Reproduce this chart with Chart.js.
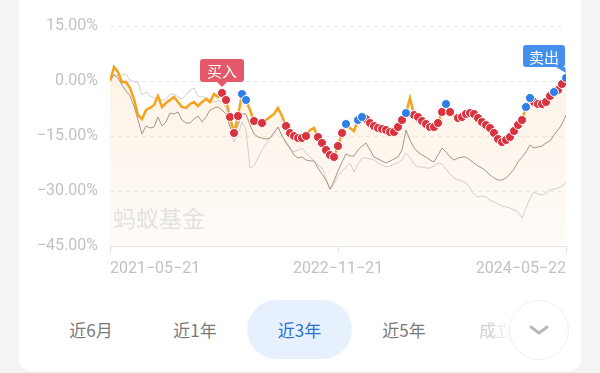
<!DOCTYPE html>
<html>
<head>
    <meta charset="utf-8">
    <title>收益走势</title>
    <script src="https://cdn.jsdelivr.net/npm/chart.js"></script>
    <style>
        body {
            margin: 0;
            width: 600px;
            height: 373px;
            overflow: hidden;
            background: #f4f4f5;
            font-family: Roboto, 'Noto Sans CJK SC', sans-serif;
            position: relative;
        }

        .card {
            position: absolute;
            left: 19px;
            top: 0;
            width: 562px;
            height: 371px;
            background: #fff;
            border-radius: 0 0 12px 12px;
        }

        #trendChart {
            position: absolute;
            left: 0;
            top: 0;
        }

        .range {
            position: absolute;
            top: 300px;
            height: 59px;
            line-height: 59px;
            font-size: 17px;
            color: #7a7a7a;
            text-align: center;
            font-family: 'Noto Sans CJK SC', sans-serif;
        }

        .range.active {
            background: #e7f1fe;
            color: #2d6fd2;
            border-radius: 30px;
        }

        .range.faded {
            color: #d2d2d2;
            text-align: left;
        }

        .fade {
            position: absolute;
            left: 493px;
            top: 305px;
            width: 18px;
            height: 50px;
            background: linear-gradient(to right, rgba(255,255,255,0), #fff);
        }

        .more {
            position: absolute;
            left: 509px;
            top: 300px;
            width: 58px;
            height: 58px;
            border-radius: 50%;
            background: #fff;
            border: 1px solid #efefef;
            display: flex;
            align-items: center;
            justify-content: center;
        }
    </style>
</head>
<body>
    <div class="card"></div>
    <canvas id="trendChart" width="600" height="290"></canvas>

    <div class="range" style="left:56px;width:70px;">近6月</div>
    <div class="range" style="left:160px;width:70px;">近1年</div>
    <div class="range active" style="left:247px;width:105px;">近3年</div>
    <div class="range" style="left:369px;width:70px;">近5年</div>
    <div class="range faded" style="left:479px;width:40px;">成立</div>
    <div class="fade"></div>
    <div class="more">
        <svg width="20" height="10" viewBox="0 0 20 10">
            <polyline points="2,2 10,8 18,2" fill="none" stroke="#b8b8b8" stroke-width="3" stroke-linecap="round" stroke-linejoin="round"/>
        </svg>
    </div>

    <script>
        // 本基金收益率 (%)
        const fundReturn = [
            0, 3.82, 2.45, -0.27, -0.27, -1.91, -4.91, -9.27, -10.36, -7.91,
            -7.36, -6.55, -4.09, -7.09, -6.0, -5.18, -4.36, -5.73, -7.09, -7.36,
            -6.27, -5.73, -6.82, -5.73, -4.91, -5.73, -3.55, -4.36, -3.27, -5.18,
            -9.82, -14.18, -9.55, -3.55, -5.18, -7.91, -10.91, -11.73, -11.45, -10.64,
            -9.82, -9.0, -7.36, -9.55, -12.27, -14.18, -15.0, -15.55, -15.55, -15.0,
            -13.36, -12.82, -15.27, -16.91, -18.82, -20.18, -20.73, -17.73, -14.18, -11.73,
            -12.82, -13.64, -10.64, -9.82, -10.36, -11.45, -12.27, -12.82, -13.09, -13.36,
            -13.91, -13.91, -12.55, -10.64, -8.73, -4.64, -9.27, -9.82, -10.91, -11.73,
            -12.55, -12.55, -11.45, -8.45, -6.27, -8.45, -9.55, -10.09, -9.82, -9.0,
            -8.73, -9.0, -10.09, -11.18, -12.0, -12.82, -14.18, -15.82, -16.64, -16.09,
            -15.27, -13.64, -12.0, -10.64, -7.09, -4.64, -5.73, -6.27, -6.27, -5.73,
            -4.09, -3.0, -2.45, -0.82, 0.82
        ];

        // 同类平均 (%)
        const peerReturn = [
            0, 1.64, 0.82, -1.09, -2.73, -4.09, -6.82, -10.64, -14.45, -12.27,
            -12.82, -12.55, -9.82, -12.27, -11.18, -8.73, -9.0, -8.45, -10.64, -11.45,
            -11.45, -10.36, -9.55, -11.18, -9.82, -7.91, -7.36, -7.09, -7.91, -9.0,
            -12.55, -14.18, -12.0, -9.0, -9.0, -12.0, -14.45, -15.27, -15.55, -15.82,
            -15.55, -14.18, -12.55, -15.0, -16.64, -18.27, -20.18, -21.0, -20.73, -21.55,
            -21.82, -21.82, -23.73, -25.36, -27.0, -29.45, -27.27, -24.55, -22.09, -19.91,
            -20.45, -20.45, -18.82, -17.73, -16.91, -18.82, -20.73, -21.27, -21.82, -22.36,
            -21.82, -21.27, -20.73, -18.82, -13.36, -16.09, -18.27, -19.36, -20.18, -20.73,
            -21.55, -22.09, -20.18, -18.27, -19.36, -20.73, -21.55, -21.0, -20.73, -20.73,
            -21.55, -22.36, -23.18, -23.73, -24.55, -25.64, -26.45, -27.0, -27.0, -26.45,
            -25.36, -24.0, -22.09, -20.73, -19.36, -17.45, -18.27, -18.0, -17.73, -16.91,
            -16.36, -14.73, -13.36, -11.73, -9.27
        ];

        // 沪深300 (%)
        const indexReturn = [
            0, 1.91, 1.36, 1.64, 1.91, 0.27, -0.27, -0.27, -3.82, -3.0,
            -4.09, -4.64, -4.64, -5.18, -5.18, -3.55, -3.55, -4.36, -4.91, -3.82,
            -2.45, -1.91, -4.09, -4.36, -4.36, -5.18, -5.73, -5.45, -5.45, -7.36,
            -12.0, -16.64, -14.45, -11.18, -13.36, -23.73, -23.18, -21.0, -18.82, -17.18,
            -15.55, -13.91, -12.82, -14.73, -17.18, -18.55, -19.36, -18.82, -18.27, -19.64,
            -20.73, -21.82, -22.91, -23.73, -26.45, -29.73, -28.09, -25.91, -24.55, -23.45,
            -22.36, -24.82, -22.64, -21.0, -21.0, -21.27, -21.55, -22.36, -22.91, -23.45,
            -23.18, -22.64, -22.36, -21.55, -19.64, -21.0, -22.64, -23.45, -23.45, -23.73,
            -23.73, -23.18, -22.36, -22.64, -24.0, -25.36, -26.45, -27.0, -27.27, -27.82,
            -29.18, -30.82, -31.64, -31.36, -31.64, -32.45, -33.0, -33.55, -34.09, -34.36,
            -34.64, -35.18, -35.73, -37.36, -34.64, -31.91, -30.27, -30.82, -31.09, -30.55,
            -29.73, -29.45, -29.18, -28.64, -27.82
        ];

        // 买入 / 卖出 点所在的位置 (index into fundReturn)
        const buyIdx = [28, 29, 30, 31, 32, 36, 38, 44, 45, 46, 47, 48, 49, 52, 53, 54, 55, 56, 57, 58,
            64, 65, 66, 67, 68, 69, 70, 71, 72, 73, 76, 77, 78, 79, 80, 81, 82, 83, 85,
            87, 88, 89, 90, 91, 92, 93, 94, 95, 96, 97, 98, 99, 100, 101, 102, 103,
            106, 107, 108, 109, 110, 112, 113];
        const sellIdx = [33, 34, 59, 62, 63, 74, 84, 104, 105, 111, 114];

        const tickLabels = ['2021-05-21', '2022-11-21', '2024-05-22'];
        const tickIdx = [0, 57, 114];
        const yTicks = [15, 0, -15, -30, -45];

        const toPoints = arr => arr.map((v, i) => ({ x: i, y: v }));
        const pick = idx => idx.map(i => ({ x: i, y: fundReturn[i] }));

        const watermark = {
            id: 'watermark',
            beforeDatasetsDraw(chart) {
                const { ctx, chartArea } = chart;
                ctx.save();
                ctx.font = '23px "Noto Sans CJK SC"';
                ctx.fillStyle = '#e2e2e2';
                ctx.textBaseline = 'middle';
                ctx.fillText('蚂蚁基金', chartArea.left + 3, chartArea.bottom - 28);
                ctx.restore();
            }
        };

        function tag(ctx, text, color, left, top, w, h, tip) {
            ctx.fillStyle = color;
            ctx.beginPath();
            ctx.roundRect(left, top, w, h, 3);
            ctx.fill();
            ctx.beginPath();
            ctx.moveTo(tip[0][0], tip[0][1]);
            ctx.lineTo(tip[1][0], tip[1][1]);
            ctx.lineTo(tip[2][0], tip[2][1]);
            ctx.closePath();
            ctx.fill();
            ctx.fillStyle = '#fff';
            ctx.font = '15px "Noto Sans CJK SC"';
            ctx.textAlign = 'center';
            ctx.textBaseline = 'middle';
            ctx.fillText(text, left + w / 2, top + h / 2 + 1);
        }

        const tradeTags = {
            id: 'tradeTags',
            afterDatasetsDraw(chart) {
                const { ctx, scales } = chart;
                ctx.save();
                // 买入 at the first buy point
                let bx = scales.x.getPixelForValue(buyIdx[0]);
                let by = scales.y.getPixelForValue(fundReturn[buyIdx[0]]);
                let bottom = by - 11;
                tag(ctx, '买入', '#e4596a', bx - 22, bottom - 23, 44, 23,
                    [[bx - 5, bottom], [bx + 5, bottom], [bx, bottom + 5]]);
                // 卖出 at the last sell point
                const last = sellIdx[sellIdx.length - 1];
                let sx = scales.x.getPixelForValue(last);
                let sy = scales.y.getPixelForValue(fundReturn[last]);
                bottom = sy - 11;
                const right = sx - 1;
                tag(ctx, '卖出', '#4590ec', right - 42, bottom - 22, 42, 22,
                    [[right - 9, bottom], [right, bottom], [right + 1, bottom + 6]]);
                ctx.restore();
            }
        };

        const ctx = document.getElementById('trendChart').getContext('2d');
        new Chart(ctx, {
            type: 'line',
            data: {
                datasets: [
                    {
                        label: '卖出',
                        data: pick(sellIdx),
                        showLine: false,
                        pointRadius: 4.5,
                        pointBackgroundColor: '#2f7fe6',
                        pointBorderColor: '#fff',
                        pointBorderWidth: 1,
                        order: 0
                    },
                    {
                        label: '买入',
                        data: pick(buyIdx),
                        showLine: false,
                        pointRadius: 4.5,
                        pointBackgroundColor: '#d9333f',
                        pointBorderColor: '#fff',
                        pointBorderWidth: 1,
                        order: 1
                    },
                    {
                        label: '本基金',
                        data: toPoints(fundReturn),
                        borderColor: '#f5a21c',
                        borderWidth: 2.5,
                        pointRadius: 0,
                        tension: 0,
                        fill: 'start',
                        backgroundColor: c => {
                            const area = c.chart.chartArea;
                            if (!area) return 'rgba(253,240,225,0.5)';
                            const g = c.chart.ctx.createLinearGradient(0, area.top, 0, area.bottom);
                            g.addColorStop(0, 'rgba(251,226,196,0.55)');
                            g.addColorStop(1, 'rgba(253,238,222,0.25)');
                            return g;
                        },
                        order: 2
                    },
                    {
                        label: '同类平均',
                        data: toPoints(peerReturn),
                        borderColor: '#a8957f',
                        borderWidth: 1,
                        pointRadius: 0,
                        tension: 0,
                        order: 3
                    },
                    {
                        label: '沪深300',
                        data: toPoints(indexReturn),
                        borderColor: '#cfcfcf',
                        borderWidth: 1,
                        pointRadius: 0,
                        tension: 0,
                        order: 4
                    }
                ]
            },
            options: {
                responsive: false,
                animation: false,
                layout: {
                    padding: { left: 0, right: 34, top: 26, bottom: 0 }
                },
                plugins: {
                    legend: { display: false },
                    tooltip: { enabled: false },
                    filler: { drawTime: 'beforeDatasetsDraw' }
                },
                scales: {
                    x: {
                        type: 'linear',
                        min: 0,
                        max: fundReturn.length - 1,
                        afterFit: axis => { axis.height = 44; },
                        afterBuildTicks: axis => {
                            axis.ticks = tickIdx.map(v => ({ value: v }));
                        },
                        grid: {
                            drawOnChartArea: false,
                            drawTicks: true,
                            tickLength: 7,
                            color: '#e3e3e3'
                        },
                        border: { display: true, color: '#e6e6e6' },
                        ticks: {
                            align: 'inner',
                            maxRotation: 0,
                            autoSkip: false,
                            padding: 6,
                            color: '#c2c2c2',
                            font: { size: 16, family: 'Roboto' },
                            callback: (v, i) => tickLabels[i].replace(/-/g, '\u2212')
                        }
                    },
                    y: {
                        min: -45,
                        max: 15,
                        afterFit: axis => { axis.width = 110; },
                        afterBuildTicks: axis => {
                            axis.ticks = yTicks.map(v => ({ value: v }));
                        },
                        grid: {
                            drawTicks: false,
                            color: '#e6e6e6',
                            lineWidth: 1
                        },
                        border: { display: false, dash: [4, 4] },
                        ticks: {
                            padding: 12,
                            color: '#c2c2c2',
                            font: { size: 16, family: 'Roboto' },
                            callback: v => v.toFixed(2).replace('-', '\u2212') + '%'
                        }
                    }
                }
            },
            plugins: [watermark, tradeTags]
        });
    </script>
</body>
</html>
